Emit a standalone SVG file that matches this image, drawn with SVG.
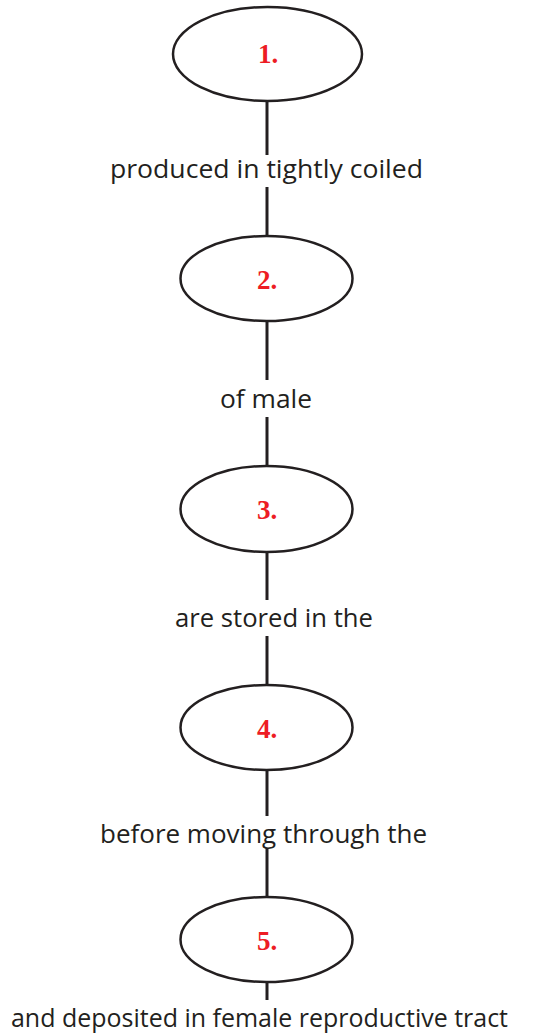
<svg xmlns="http://www.w3.org/2000/svg" width="536" height="1034" viewBox="0 0 536 1034">
<style>
.node ellipse{fill:#fff;stroke:#231f20;stroke-width:2.5}
.num{font-family:"Liberation Serif",serif;font-weight:bold;font-size:27px;fill:#ed1c24;text-anchor:middle}
.lbl{font-family:"Open Sans","Noto Sans",sans-serif;font-size:26px;fill:#231f20;text-anchor:middle}
.conn line{stroke:#231f20;stroke-width:3}
</style>
<rect width="536" height="1034" fill="#fff"/>
<g id="connectors" class="conn">
<line x1="267" y1="101" x2="267" y2="155"/>
<line x1="267" y1="187" x2="267" y2="236"/>
<line x1="267" y1="321" x2="267" y2="380"/>
<line x1="267" y1="417" x2="267" y2="466"/>
<line x1="267" y1="552" x2="267" y2="600"/>
<line x1="267" y1="636" x2="267" y2="685"/>
<line x1="267" y1="770" x2="267" y2="816"/>
<line x1="267" y1="848" x2="267" y2="897"/>
<line x1="267" y1="982" x2="267" y2="1000"/>
</g>
<g id="node1" class="node"><ellipse cx="267.5" cy="54" rx="94.5" ry="47"/><text class="num" x="268" y="63">1.</text></g>
<g id="node2" class="node"><ellipse cx="266.5" cy="278.5" rx="86" ry="42.5"/><text class="num" x="267" y="289">2.</text></g>
<g id="node3" class="node"><ellipse cx="266.5" cy="509" rx="86" ry="43"/><text class="num" x="267" y="519">3.</text></g>
<g id="node4" class="node"><ellipse cx="266.5" cy="727.5" rx="86" ry="42.5"/><text class="num" x="267" y="738">4.</text></g>
<g id="node5" class="node"><ellipse cx="266.5" cy="939.5" rx="86" ry="42.5"/><text class="num" x="267" y="950">5.</text></g>
<g id="labels">
<text class="lbl" x="266.5" y="178" textLength="313" lengthAdjust="spacingAndGlyphs">produced in tightly coiled</text>
<text class="lbl" x="266" y="408" textLength="92" lengthAdjust="spacingAndGlyphs">of male</text>
<text class="lbl" x="274" y="627" textLength="198" lengthAdjust="spacingAndGlyphs">are stored in the</text>
<text class="lbl" x="263.5" y="843" textLength="327" lengthAdjust="spacingAndGlyphs">before moving through the</text>
<text class="lbl" x="259.5" y="1027" textLength="497" lengthAdjust="spacingAndGlyphs">and deposited in female reproductive tract</text>
</g>
</svg>
